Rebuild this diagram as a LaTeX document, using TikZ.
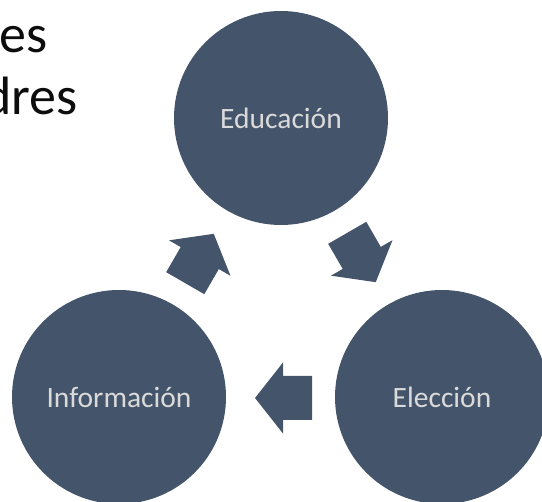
\documentclass[tikz,border=0pt]{standalone}
\usepackage{fontspec}
\setmainfont{Carlito}
\usetikzlibrary{calc}
\definecolor{circfill}{RGB}{68,84,106}
\definecolor{circtext}{RGB}{218,218,218}
\definecolor{titletext}{RGB}{13,13,13}
\tikzset{
  bigcirc/.style={circle, fill=circfill, draw=none, minimum size=214pt, inner sep=0pt,
    text=circtext, font=\fontsize{29.5}{35}\selectfont},
  blockarrow/.style={fill=circfill, draw=none},
  titlefrag/.style={anchor=base east, inner sep=0pt, text=titletext, font=\fontsize{54}{62}\selectfont}
}
\begin{document}
\begin{tikzpicture}[x=1pt, y=1pt]
\useasboundingbox (0,0) rectangle (542,-502);
\clip (0,0) rectangle (542,-502);
% title fragments (cut off at the left edge, as in the reference)
\node[titlefrag] (t1) at (48,-53) {es};
\node[titlefrag] (t2) at (78,-115) {dres};
% circles
\node[bigcirc] (edu) at (281,-118) {Educación};
\node[bigcirc] (inf) at (119,-397) {Información};
\node[bigcirc] (ele) at (442,-397) {Elección};
% arrow centres
\coordinate (m1) at ($(edu)!0.5!(ele)$);
\coordinate (m2) at ($(ele)!0.5!(inf)+(3,-1)$);
\coordinate (m3) at ($(inf)!0.5!(edu)+(-0.5,-1)$);
% block arrows
\fill[blockarrow, shift={(m1)}, rotate=-60]
  (-28.5,22) -- (0.5,22) -- (0.5,35.5) -- (28.5,0) -- (0.5,-35.5) -- (0.5,-22) -- (-28.5,-22) -- cycle;
\fill[blockarrow, shift={(m2)}, rotate=180]
  (-28.5,22) -- (0.5,22) -- (0.5,35.5) -- (28.5,0) -- (0.5,-35.5) -- (0.5,-22) -- (-28.5,-22) -- cycle;
\fill[blockarrow, shift={(m3)}, rotate=60]
  (-28.5,22) -- (0.5,22) -- (0.5,35.5) -- (28.5,0) -- (0.5,-35.5) -- (0.5,-22) -- (-28.5,-22) -- cycle;
\end{tikzpicture}
\end{document}
